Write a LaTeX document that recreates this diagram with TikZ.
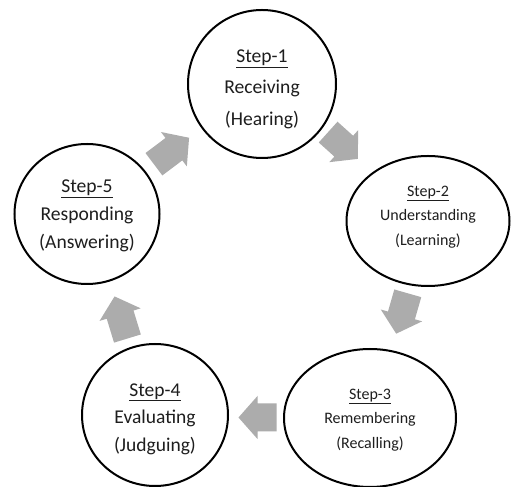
\documentclass[tikz,border=0pt]{standalone}
\usepackage{fontspec}
\setmainfont{Carlito}
\usetikzlibrary{shapes.geometric,calc}
\definecolor{arrowgray}{RGB}{172,172,172}
\definecolor{textgray}{RGB}{30,30,30}
\newcommand\steplabel[1]{\underline{#1}}
\tikzset{
  stepnode/.style={ellipse, draw=black, line width=2pt, inner sep=0pt},
  steptext/.style={align=center, text=textgray, inner sep=0pt},
  pics/blockarrow/.style={code={
    \fill[arrowgray] (#1/2,0) -- (#1/2-19,21.5) -- (#1/2-19,14) -- (-#1/2,14)
      -- (-#1/2,-14) -- (#1/2-19,-14) -- (#1/2-19,-21.5) -- cycle;}}
}
\begin{document}
\begin{tikzpicture}[x=1pt,y=1pt]
\useasboundingbox[fill=white] (0,0) rectangle (512,487);
\node[stepnode, minimum width=148pt, minimum height=148pt] (c1) at (262,403) {};
\node[stepnode, minimum width=163pt, minimum height=130pt] (c2) at (428,266) {};
\node[stepnode, minimum width=172pt, minimum height=138pt] (c3) at (370,69) {};
\node[stepnode, minimum width=146pt, minimum height=142pt] (c4) at (155,72) {};
\node[stepnode, minimum width=145pt, minimum height=140pt] (c5) at (87,273) {};
\node[steptext, font=\fontsize{19.6}{31.5}\selectfont] (t1) at ($(c1)+(0,-5)$) {\steplabel{Step-1}\\Receiving\\(Hearing)};
\node[steptext, font=\fontsize{16}{24.5}\selectfont] (t2) at ($(c2)+(0,4)$) {\steplabel{Step-2}\\Understanding\\(Learning)};
\node[steptext, font=\fontsize{16}{24.5}\selectfont] (t3) at ($(c3)+(0,-2)$) {\steplabel{Step-3}\\Remembering\\(Recalling)};
\node[steptext, font=\fontsize{19.5}{27.5}\selectfont] (t4) at ($(c4)+(0,-4)$) {\steplabel{Step-4}\\Evaluating\\(Judguing)};
\node[steptext, font=\fontsize{19.6}{28}\selectfont] (t5) at ($(c5)+(0,-2)$) {\steplabel{Step-5}\\Responding\\(Answering)};
\pic[rotate=37] (a51) at ($(c5)!0.5!(c1)+(-3,-2)$) {blockarrow=44};
\pic[rotate=-42] (a12) at ($(c1)!0.5!(c2)+(-2,7)$) {blockarrow=40};
\pic[rotate=-106] (a23) at ($(c2)!0.5!(c3)+(3,6)$) {blockarrow=42};
\pic[rotate=180] (a34) at ($(c3)!0.5!(c4)+(-5,-1)$) {blockarrow=38};
\pic[rotate=107] (a45) at ($(c4)!0.5!(c5)+(0,-3)$) {blockarrow=44};
\end{tikzpicture}
\end{document}
